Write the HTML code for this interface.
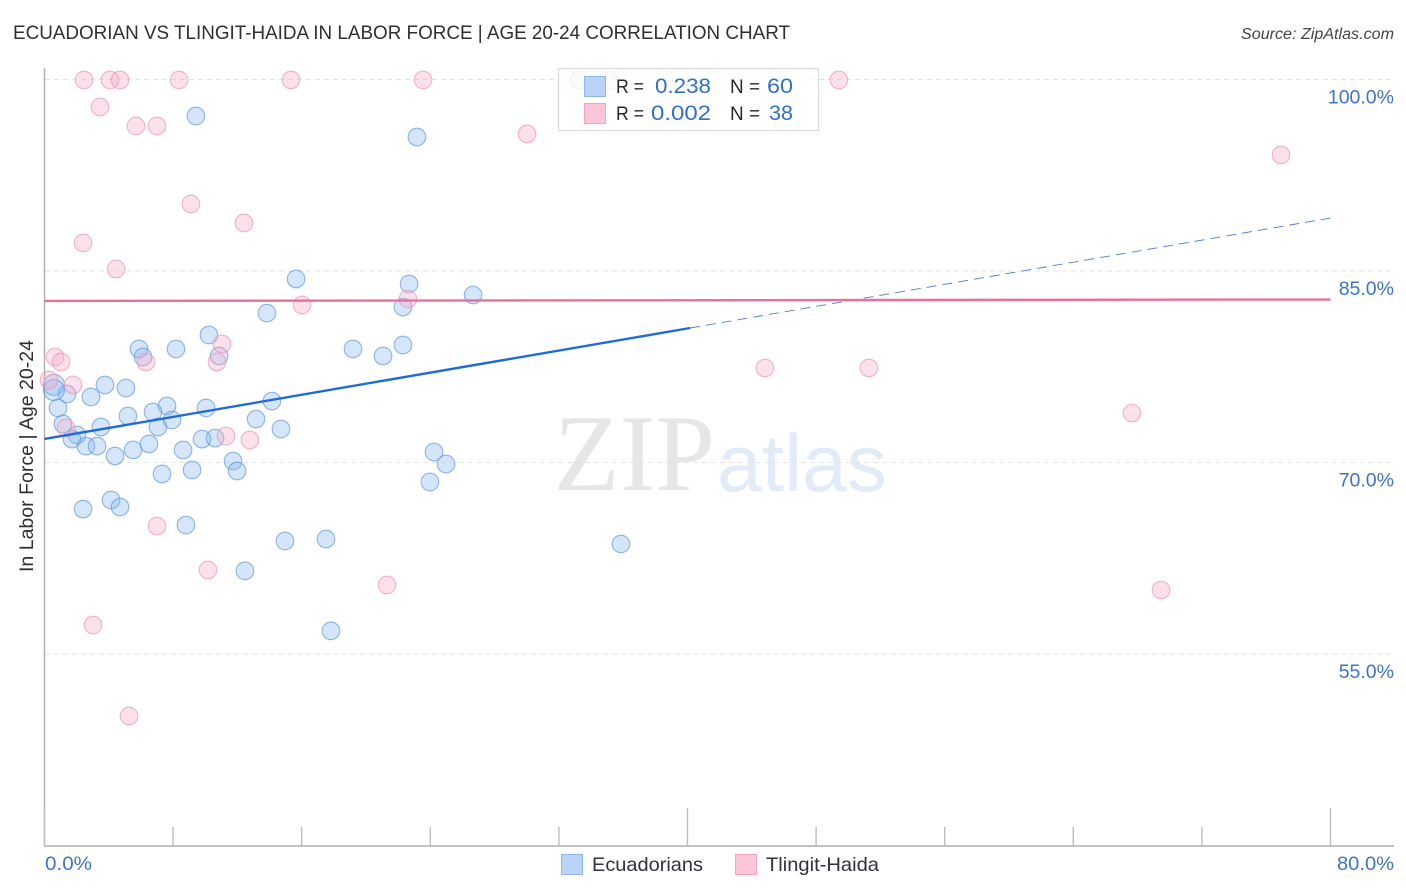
<!DOCTYPE html>
<html lang="en">
<head>
<meta charset="utf-8">
<title>Ecuadorian vs Tlingit-Haida in Labor Force | Age 20-24 Correlation Chart</title>
<style>
html,body{margin:0;padding:0;background:#fff;width:1406px;height:892px;overflow:hidden}
svg{display:block;font-family:"Liberation Sans",sans-serif}
</style>
</head>
<body>
<svg id="chart" xmlns="http://www.w3.org/2000/svg" width="1406" height="892" viewBox="0 0 1406 892">
  <text x="13" y="39" font-size="19" fill="#2f2f33" textLength="777" lengthAdjust="spacingAndGlyphs">ECUADORIAN VS TLINGIT-HAIDA IN LABOR FORCE | AGE 20-24 CORRELATION CHART</text>
  <text x="1241" y="39" font-size="15.5" font-style="italic" fill="#444" textLength="153" lengthAdjust="spacingAndGlyphs">Source: ZipAtlas.com</text>
  <g>
    <text x="554" y="490" font-family="'Liberation Serif',serif" font-size="109" fill="#e6e6e6" textLength="161" lengthAdjust="spacingAndGlyphs">ZIP</text>
    <text x="717" y="491" font-size="81" fill="#e2ebf8" textLength="170" lengthAdjust="spacingAndGlyphs">atlas</text>
  </g>
  <g id="grid"></g>
  <g id="axes"></g>
  <g id="points"></g>
  <g id="trends"></g>
  <g id="ylabels"></g>
  <text transform="translate(33,456) rotate(-90)" font-size="19" fill="#2f2f33" text-anchor="middle" textLength="232" lengthAdjust="spacingAndGlyphs">In Labor Force | Age 20-24</text>
  <text x="45" y="870" font-size="19.5" fill="#3d72d1" textLength="47" lengthAdjust="spacingAndGlyphs">0.0%</text>
  <text x="1337" y="870" font-size="19.5" fill="#3d72d1" textLength="57" lengthAdjust="spacingAndGlyphs">80.0%</text>

  <g>
    <rect x="558.5" y="68.5" width="260" height="62" fill="#fff" fill-opacity="0.82" stroke="#dcdcdc" stroke-width="1.2"/>
    <rect x="584.5" y="76.5" width="21" height="20" fill="#b9d4f8" stroke="#8db8ef"/>
    <rect x="584.5" y="103.5" width="21" height="20" fill="#fdc6d8" stroke="#f2a6bf"/>
    <text x="616" y="93" font-size="19.5" fill="#26282e" textLength="28" lengthAdjust="spacingAndGlyphs">R =</text>
    <text x="655" y="93" font-size="21" fill="#2f6fce" textLength="56" lengthAdjust="spacingAndGlyphs">0.238</text>
    <text x="730" y="93" font-size="19.5" fill="#26282e" textLength="30" lengthAdjust="spacingAndGlyphs">N =</text>
    <text x="767" y="93" font-size="21" fill="#2f6fce" textLength="26" lengthAdjust="spacingAndGlyphs">60</text>
    <text x="616" y="120" font-size="19.5" fill="#26282e" textLength="28" lengthAdjust="spacingAndGlyphs">R =</text>
    <text x="651" y="120" font-size="21" fill="#2f6fce" textLength="60" lengthAdjust="spacingAndGlyphs">0.002</text>
    <text x="730" y="120" font-size="19.5" fill="#26282e" textLength="30" lengthAdjust="spacingAndGlyphs">N =</text>
    <text x="769" y="120" font-size="21" fill="#2f6fce" textLength="24" lengthAdjust="spacingAndGlyphs">38</text>
  </g>

  <g>
    <rect x="561.5" y="854.5" width="21" height="20" fill="#b9d4f8" stroke="#8db8ef"/>
    <text x="592" y="871" font-size="19.5" fill="#2f3238" textLength="111" lengthAdjust="spacingAndGlyphs">Ecuadorians</text>
    <rect x="735.5" y="854.5" width="21" height="20" fill="#fdc6d8" stroke="#f2a6bf"/>
    <text x="766" y="871" font-size="19.5" fill="#2f3238" textLength="113" lengthAdjust="spacingAndGlyphs">Tlingit-Haida</text>
  </g>
</svg>
<script>
const yTicks = [100, 85, 70, 55];
const yTickLabels = ["100.0%", "85.0%", "70.0%", "55.0%"];
const xTicks = [0, 8, 16, 24, 32, 40, 48, 56, 64, 72, 80];
const majorXTicks = [0, 40, 80];

const ecuadorianX = [33.25,9.42,23.17,15.65,22.68,26.66,22.30,13.84,10.23,22.30,5.88,8.18,19.19,6.13,21.06,10.86,0.59,3.76,5.07,1.40,2.89,0.59,0.84,10.05,7.62,6.75,5.19,14.15,13.16,7.93,7.06,1.15,3.51,14.71,2.02,1.71,2.58,3.27,6.50,9.80,10.61,5.51,8.62,4.39,24.23,11.73,24.98,9.18,11.98,7.31,23.98,4.14,4.70,2.40,8.80,14.96,17.51,35.86,12.47,17.82];
const ecuadorianY = [99.96,97.14,95.50,84.38,83.99,83.12,82.18,81.71,79.99,79.21,78.90,78.90,78.90,78.27,78.35,78.35,76.08,76.08,75.84,75.37,75.14,75.68,74.28,74.28,74.43,73.96,73.65,74.82,73.41,73.34,72.79,73.02,72.79,72.63,72.16,71.84,71.29,71.29,71.46,71.84,71.92,70.99,70.99,70.52,70.83,70.12,69.89,69.42,69.34,69.11,68.48,67.07,66.52,66.36,65.11,63.86,64.02,63.63,61.52,56.82];
const tlingitX = [2.46,4.07,4.70,8.37,15.33,23.55,35.18,49.42,3.45,5.69,7.00,30.02,76.92,9.11,12.41,2.40,4.45,22.61,16.02,11.04,0.65,1.03,6.31,10.73,44.82,51.29,0.28,1.77,67.65,1.34,11.29,12.78,7.00,10.17,21.31,69.46,3.02,5.26];
const tlingitY = [99.96,99.96,99.96,99.96,99.96,99.96,99.96,99.96,97.85,96.36,96.36,95.73,94.09,90.25,88.76,87.20,85.16,82.81,82.34,79.29,78.27,77.88,77.88,77.88,77.41,77.41,76.47,76.08,73.88,72.71,72.08,71.77,65.03,61.59,60.42,60.02,57.28,50.16];

const ecuadorianTrendX = [0, 40.16];
const ecuadorianTrendY = [71.85, 80.54];
const ecuadorianDashX = [40.16, 80];
const ecuadorianDashY = [80.54, 89.15];
const tlingitTrendX = [0, 80];
const tlingitTrendY = [82.66, 82.77];

const NS = "http://www.w3.org/2000/svg";
function xAxis(v) { return 44.5 + v * 16.075; }
function yAxis(v) { return 79.5 + (100 - v) * 12.77; }
function make(tag, parent, props) {
  const el = document.createElementNS(NS, tag);
  for (const k in props) el.setAttribute(k, props[k]);
  document.getElementById(parent).appendChild(el);
  return el;
}

yTicks.forEach(function (t, i) {
  const line = make("line", "grid", {x1: 45, x2: 1394, y1: yAxis(t), y2: yAxis(t), stroke: "#e2e2e2", "stroke-width": 1, "stroke-dasharray": "5 4"});
  
  
  const label = make("text", "ylabels", {x: 1394, y: yAxis(t) + 24, "font-size": 19.5, fill: "#3d72d1", "text-anchor": "end"});
  label.textContent = yTickLabels[i];
  
  
});

const yAxisLine = make("line", "axes", {x1: 44.5, x2: 44.5, y1: 68, y2: 846, stroke: "#aeaeae", "stroke-width": 1.4});


const xAxisLine = make("line", "axes", {x1: 44, x2: 1394, y1: 846, y2: 846, stroke: "#aeaeae", "stroke-width": 1.4});


xTicks.forEach(function (t) {
  const top = majorXTicks.indexOf(t) >= 0 ? 808 : 827;
  const tick = make("line", "axes", {x1: xAxis(t), x2: xAxis(t), y1: top, y2: 846, stroke: "#bdbdbd", "stroke-width": 1.4});
  
  
});

ecuadorianX.forEach(function (v, i) {
  const r = (i === 16 || i === 21) ? 10.5 : 8.8;
  const dot = make("circle", "points", {cx: xAxis(v), cy: yAxis(ecuadorianY[i]), r: r, fill: "#7fb0ee", "fill-opacity": 0.32, stroke: "#5f97e2", "stroke-opacity": 0.7, "stroke-width": 1.1});
  
  
});
tlingitX.forEach(function (v, i) {
  const dot = make("circle", "points", {cx: xAxis(v), cy: yAxis(tlingitY[i]), r: 8.8, fill: "#f9a9c3", "fill-opacity": 0.35, stroke: "#ee94b2", "stroke-opacity": 0.7, "stroke-width": 1.1});
  
  
});

const blueDash = make("line", "trends", {x1: xAxis(ecuadorianDashX[0]), y1: yAxis(ecuadorianDashY[0]), x2: xAxis(ecuadorianDashX[1]), y2: yAxis(ecuadorianDashY[1]), stroke: "#4d7fc4", "stroke-width": 0.9, "stroke-dasharray": "10 6"});


const blueTrend = make("line", "trends", {x1: xAxis(ecuadorianTrendX[0]), y1: yAxis(ecuadorianTrendY[0]), x2: xAxis(ecuadorianTrendX[1]), y2: yAxis(ecuadorianTrendY[1]), stroke: "#1f6bd6", "stroke-width": 2.4});


const pinkTrend = make("line", "trends", {x1: xAxis(tlingitTrendX[0]), y1: yAxis(tlingitTrendY[0]), x2: xAxis(tlingitTrendX[1]), y2: yAxis(tlingitTrendY[1]), stroke: "#ea6f9b", "stroke-width": 2.4});


</script>
</body>
</html>
